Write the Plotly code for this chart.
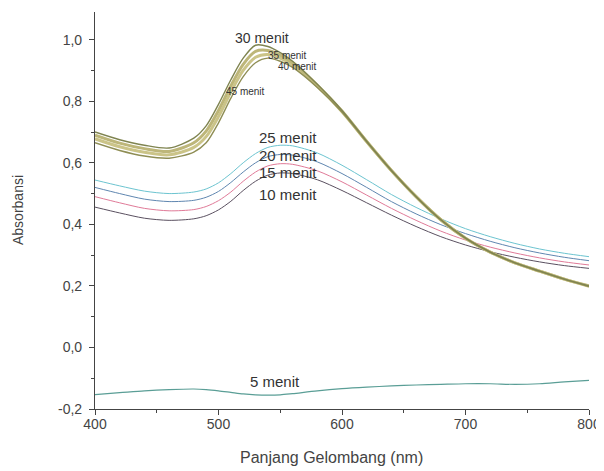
import plotly.graph_objects as go

wavelength = [400, 420, 440, 460, 480, 490, 500, 510, 520, 530, 540, 550, 560,
              580, 600, 620, 640, 660, 680, 700, 720, 740, 760, 780, 800]

abs_5 = [-0.153, -0.147, -0.141, -0.137, -0.135, -0.137, -0.141, -0.146, -0.151, -0.154, -0.155, -0.154, -0.150,
         -0.141, -0.134, -0.129, -0.125, -0.122, -0.120, -0.118, -0.118, -0.120, -0.118, -0.112, -0.107]
abs_10 = [0.456, 0.437, 0.420, 0.413, 0.418, 0.428, 0.447, 0.475, 0.510, 0.540, 0.560, 0.567, 0.565,
          0.545, 0.510, 0.470, 0.430, 0.393, 0.360, 0.333, 0.311, 0.293, 0.278, 0.266, 0.257]
abs_15 = [0.490, 0.470, 0.452, 0.444, 0.448, 0.458, 0.477, 0.505, 0.540, 0.570, 0.590, 0.597, 0.595,
          0.574, 0.538, 0.495, 0.452, 0.413, 0.378, 0.349, 0.326, 0.307, 0.291, 0.278, 0.268]
abs_20 = [0.520, 0.500, 0.482, 0.474, 0.478, 0.488, 0.507, 0.536, 0.570, 0.600, 0.620, 0.627, 0.625,
          0.603, 0.565, 0.520, 0.474, 0.434, 0.399, 0.370, 0.345, 0.324, 0.307, 0.293, 0.282]
abs_25 = [0.544, 0.525, 0.508, 0.500, 0.505, 0.515, 0.535, 0.565, 0.600, 0.630, 0.650, 0.657, 0.655,
          0.632, 0.592, 0.545, 0.497, 0.455, 0.418, 0.386, 0.360, 0.338, 0.320, 0.306, 0.295]
abs_30 = [0.700, 0.675, 0.657, 0.648, 0.680, 0.720, 0.790, 0.870, 0.940, 0.982, 0.978, 0.958, 0.930,
          0.855, 0.770, 0.670, 0.575, 0.490, 0.415, 0.355, 0.310, 0.275, 0.248, 0.222, 0.200]
abs_35 = [0.690, 0.664, 0.646, 0.637, 0.665, 0.703, 0.770, 0.850, 0.920, 0.962, 0.965, 0.950, 0.925,
          0.852, 0.768, 0.669, 0.575, 0.490, 0.415, 0.355, 0.310, 0.275, 0.248, 0.222, 0.200]
abs_40 = [0.678, 0.652, 0.634, 0.626, 0.650, 0.685, 0.750, 0.830, 0.900, 0.943, 0.952, 0.940, 0.918,
          0.849, 0.766, 0.669, 0.575, 0.490, 0.415, 0.355, 0.310, 0.275, 0.248, 0.222, 0.199]
abs_45 = [0.665, 0.640, 0.622, 0.615, 0.635, 0.665, 0.730, 0.810, 0.880, 0.925, 0.940, 0.930, 0.910,
          0.845, 0.765, 0.668, 0.575, 0.490, 0.415, 0.355, 0.310, 0.275, 0.248, 0.222, 0.198]

series = [
    ("5 menit", abs_5, "#5a9e96", 1.2),
    ("10 menit", abs_10, "#5a5060", 1.0),
    ("15 menit", abs_15, "#e07a98", 1.0),
    ("20 menit", abs_20, "#5f86b0", 1.0),
    ("25 menit", abs_25, "#6cc4d0", 1.0),
    ("40 menit", abs_40, "#cbc488", 3.0),
    ("35 menit", abs_35, "#bdb679", 3.0),
    ("45 menit", abs_45, "#8f8e55", 1.4),
    ("30 menit", abs_30, "#7f8450", 1.4),
]

labels = [
    ("30 menit", 535, 1.006, 14),
    ("35 menit", 555.5, 0.948, 10),
    ("40 menit", 563.6, 0.912, 10),
    ("45 menit", 521.5, 0.831, 10),
    ("25 menit", 556, 0.681, 15),
    ("20 menit", 556, 0.625, 15),
    ("15 menit", 556, 0.567, 15),
    ("10 menit", 556, 0.498, 15),
    ("5 menit", 545.7, -0.111, 15),
]

y_ticks = [-0.2, 0.0, 0.2, 0.4, 0.6, 0.8, 1.0]
y_ticktext = ["-0,2", "0,0", "0,2", "0,4", "0,6", "0,8", "1,0"]
x_ticks = [400, 500, 600, 700, 800]

FONT = "Liberation Sans, Arial"

# page has an 8px body margin; compensate so the plot lands where the reference has it
OFF = 8
W, H = 604 - OFF, 471 - OFF
L, T = 95 - OFF, 12 - OFF
PW, PH = 494, 397
R, B = W - L - PW, H - T - PH

fig = go.Figure()
for name, vals, color, w in series:
    fig.add_trace(go.Scatter(x=wavelength, y=vals, mode="lines", name=name,
                             line=dict(color=color, width=w, shape="spline", smoothing=0.8)))

for text, x, y, size in labels:
    fig.add_annotation(x=x, y=y, text=text, showarrow=False,
                       font=dict(size=size, color="#333333", family=FONT))

def paper_x(px):
    return (px - OFF - L) / PW

def paper_y(py):
    return (T + PH - (py - OFF)) / PH

fig.add_annotation(x=paper_x(18), y=paper_y(210), xref="paper", yref="paper", text="Absorbansi",
                   xanchor="center", yanchor="middle",
                   showarrow=False, textangle=-90, font=dict(size=14, color="#444", family=FONT))
fig.add_annotation(x=paper_x(331), y=paper_y(457), xref="paper", yref="paper",
                   xanchor="center", yanchor="middle",
                   text="Panjang Gelombang (nm)", showarrow=False,
                   font=dict(size=16, color="#444", family=FONT))

fig.update_layout(
    width=W, height=H,
    margin=dict(l=L, r=R, t=T, b=B, autoexpand=False),
    paper_bgcolor="white", plot_bgcolor="white",
    showlegend=False,
    font=dict(family=FONT, color="#444444", size=13),
)

fig.update_xaxes(
    range=[400, 800], tickvals=x_ticks, ticks="outside", ticklen=5, tickcolor="#444",
    showline=True, linecolor="#444", linewidth=1.2, showgrid=False, zeroline=False,
    minor=dict(dtick=50, ticks="outside", ticklen=3, tickcolor="#444"),
    tickfont=dict(size=14, color="#444"), automargin=False, ticklabelstandoff=-3,
)
fig.update_yaxes(
    range=[-0.2, 1.09], tickvals=y_ticks, ticktext=y_ticktext, ticks="outside", ticklen=5,
    tickcolor="#444", showline=True, linecolor="#444", linewidth=1.2, showgrid=False, zeroline=False,
    minor=dict(dtick=0.1, tick0=0, ticks="outside", ticklen=3, tickcolor="#444"),
    tickfont=dict(size=14, color="#444"), automargin=False, ticklabelstandoff=4,
)
fig.write_html("out.html")
